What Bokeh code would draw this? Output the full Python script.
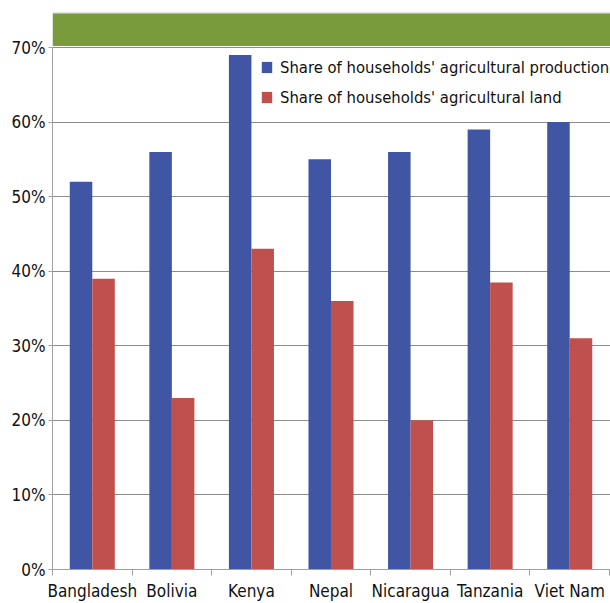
from bokeh.plotting import figure
from bokeh.models import (ColumnDataSource, Range1d, FixedTicker, NumeralTickFormatter,
                          Legend, LegendItem)
from bokeh.embed import file_html
from bokeh.resources import INLINE

# Survey results per country
countries = ["Bangladesh", "Bolivia", "Kenya", "Nepal", "Nicaragua", "Tanzania", "Viet Nam"]
production_share = [0.52, 0.56, 0.69, 0.55, 0.56, 0.59, 0.60]
land_share = [0.39, 0.23, 0.43, 0.36, 0.20, 0.385, 0.31]
y_ticks = [0.0, 0.1, 0.2, 0.3, 0.4, 0.5, 0.6, 0.7]

FONT = "DejaVu Sans Condensed"
BLUE = "#4056a5"
RED = "#c0504d"
GREEN = "#7a9b3c"

n = len(countries)
centers = [i + 0.5 for i in range(n)]
bar_w = 0.283

src = ColumnDataSource(dict(
    country=countries,
    prod=production_share,
    land=land_share,
    x_prod=[c - bar_w / 2 for c in centers],
    x_land=[c + bar_w / 2 for c in centers],
))

p = figure(width=610, height=603, output_backend="svg", toolbar_location=None,
           x_range=Range1d(0, 7.0125), y_range=Range1d(0, 0.7483),
           min_border_left=52, min_border_right=0, min_border_top=11,
           min_border_bottom=33)
p.outline_line_color = None
p.background_fill_color = "white"
p.border_fill_color = "white"

# header band across the top of the plot area
p.quad(left=0, right=7.0125, bottom=0.7019, top=0.7460, fill_color=GREEN,
       line_color=None)
p.segment(x0=0, x1=7.0125, y0=0.7463, y1=0.7463, line_color="#c8c8c8", line_width=1)

r_prod = p.vbar(x="x_prod", top="prod", width=bar_w, source=src,
                fill_color=BLUE, line_color=None)
r_land = p.vbar(x="x_land", top="land", width=bar_w, source=src,
                fill_color=RED, line_color=None)

# y axis
p.yaxis.ticker = FixedTicker(ticks=y_ticks)
p.yaxis.formatter = NumeralTickFormatter(format="0%")
p.yaxis.bounds = (0, 0.7)
p.yaxis.axis_line_color = "#a0a0a0"
p.yaxis.major_tick_line_color = "#a0a0a0"
p.yaxis.major_tick_out = 4
p.yaxis.major_tick_in = 0
p.yaxis.minor_tick_line_color = None
p.yaxis.major_label_standoff = 3
p.yaxis.major_label_text_font = FONT
p.yaxis.major_label_text_font_size = "17px"
p.yaxis.major_label_text_color = "#111111"

# x axis: labels at category centres, tick marks at category boundaries
p.xaxis.ticker = FixedTicker(ticks=centers, minor_ticks=list(range(n + 1)))
p.xaxis.major_label_overrides = {c: name for c, name in zip(centers, countries)}
p.xaxis.axis_line_color = "#a0a0a0"
p.xaxis.major_tick_out = 0
p.xaxis.major_tick_in = 0
p.xaxis.minor_tick_out = 6
p.xaxis.minor_tick_in = 0
p.xaxis.minor_tick_line_color = "#a0a0a0"
p.xaxis.major_label_standoff = 5
p.xaxis.major_label_text_font = FONT
p.xaxis.major_label_text_font_size = "17px"
p.xaxis.major_label_text_color = "#111111"

p.xgrid.grid_line_color = None
p.ygrid.ticker = FixedTicker(ticks=y_ticks)
p.ygrid.grid_line_color = "#8c8c8c"
p.ygrid.grid_line_width = 1

legend = Legend(items=[
    LegendItem(label="Share of households' agricultural production", renderers=[r_prod]),
    LegendItem(label="Share of households' agricultural land", renderers=[r_land]),
], location=(208, 462))
legend.glyph_width = 13
legend.glyph_height = 14
legend.label_text_font = FONT
legend.label_text_font_size = "16.5px"
legend.label_text_color = "#111111"
legend.label_standoff = 7
legend.label_height = 20
legend.spacing = 10
legend.padding = 0
legend.margin = 0
legend.border_line_color = None
legend.background_fill_alpha = 0
p.add_layout(legend)

open("out.html", "w").write(file_html(p, INLINE))
